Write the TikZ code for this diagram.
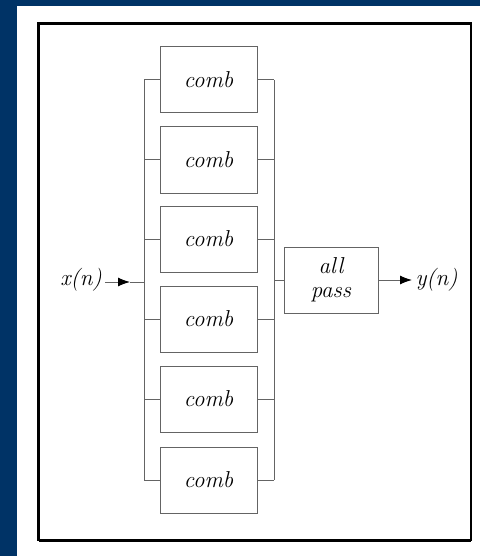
\documentclass[tikz,border=0pt]{standalone}
\usetikzlibrary{arrows.meta}
\definecolor{navy}{RGB}{0,51,102}
\definecolor{wire}{RGB}{100,100,100}
\begin{document}
\begin{tikzpicture}[x=1pt,y=-1pt,
  lbl/.style={font=\fontsize{23}{27}\selectfont\itshape},
  combbox/.style={draw=wire,line width=1pt,minimum width=97pt,minimum height=66pt,inner sep=0pt,lbl},
  apbox/.style={draw=wire,line width=1pt,minimum width=94pt,minimum height=66pt,inner sep=0pt,lbl,align=center},
  wireline/.style={draw=wire,line width=1pt},
  arr/.style={wireline,-{Latex[length=12pt,width=9pt,color=black]}}]
\useasboundingbox (0,0) rectangle (480,556);
\fill[navy] (0,0) rectangle (480,556);
\fill[white] (17,6) rectangle (480,556);
\draw[line width=2.5pt] (38.5,23.5) rectangle (471,540);
\draw[line width=1.5pt] (39.5,24) -- (39.5,541) -- (471,541);
\foreach \i/\y in {1/80,2/160,3/239,4/319,5/399,6/480}{
  \node[combbox] (c\i) at (208.5,\y) {comb};
}
\coordinate (lb) at (144,282);
\coordinate (rb) at (274,282);
\foreach \i in {1,...,6}{
  \draw[wireline] (c\i.west) -- (c\i.west -| lb);
  \draw[wireline] (c\i.east) -- (c\i.east -| rb);
}
\draw[wireline] (c1.west -| lb) -- (c6.west -| lb);
\draw[wireline] (c1.east -| rb) -- (c6.east -| rb);
\node[lbl] (x) at (81,280) {x(n)};
\coordinate (xa) at (130,282);
\draw[arr] (x.east |- xa) -- (xa);
\draw[wireline] (xa) -- (lb);
\node[apbox] (ap) at (331,280) {all\\[-3pt]pass};
\draw[wireline] (rb |- ap.west) -- (ap.west);
\node[lbl,anchor=west] (y) at (412,280) {y(n)};
\draw[arr] (ap.east) -- (y.west);
\end{tikzpicture}
\end{document}
